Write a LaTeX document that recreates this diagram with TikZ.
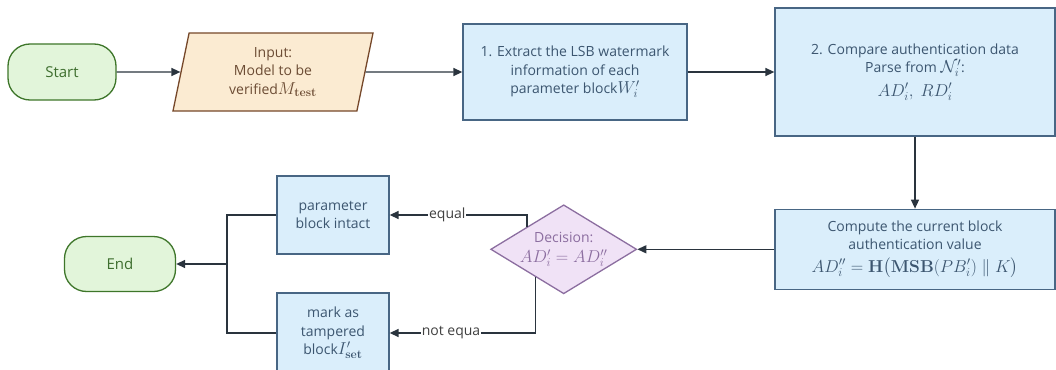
\documentclass[tikz,border=0pt]{standalone}
\usepackage{amsmath,amssymb}
\usepackage[no-math]{fontspec}
\setmainfont{Open Sans}
\usepackage{tikz}
\usetikzlibrary{positioning,arrows.meta,shapes.geometric,calc}

\definecolor{boxfill}{RGB}{218,238,251}
\definecolor{boxline}{RGB}{72,102,132}
\definecolor{boxtext}{RGB}{60,86,112}
\definecolor{termfill}{RGB}{226,245,218}
\definecolor{termline}{RGB}{62,118,42}
\definecolor{termtext}{RGB}{62,110,46}
\definecolor{iofill}{RGB}{251,235,210}
\definecolor{ioline}{RGB}{118,72,42}
\definecolor{iotext}{RGB}{108,76,52}
\definecolor{decfill}{RGB}{240,226,246}
\definecolor{decline}{RGB}{140,110,160}
\definecolor{dectext}{RGB}{140,110,160}
\definecolor{wire}{RGB}{42,52,62}

% math set a size up from the text
\newcommand{\mx}[1]{{\fontsize{16.5}{18}\selectfont$#1$}}

\begin{document}
\begin{tikzpicture}[x=1pt, y=1pt, font=\fontsize{14}{18.5}\selectfont,
  node distance=72pt and 72pt,
  box/.style={draw=boxline, fill=boxfill, text=boxtext, line width=1.3pt, align=center, inner sep=2pt},
  term/.style={draw=termline, fill=termfill, text=termtext, line width=1.3pt, rounded corners=22pt, minimum width=108pt, minimum height=56pt},
  io/.style={trapezium, trapezium left angle=72, trapezium right angle=108, trapezium stretches body, draw=ioline, fill=iofill, text=iotext, line width=1.3pt, align=center, minimum width=200pt, minimum height=78pt, inner sep=0pt},
  decision/.style={diamond, draw=decline, fill=decfill, line width=1.3pt, minimum width=146pt, minimum height=89pt, inner sep=0pt},
  line/.style={draw=wire, line width=1.4pt},
  arr/.style={line, -{Triangle[length=9pt,width=8pt]}},
  lab/.style={fill=white, text=black!75, inner sep=1pt}]
\useasboundingbox (0,0) rectangle (1056,-369);
\clip (0,0) rectangle (1056,-369);
% top row
\node[term] (start) at (62,-72) {\fontsize{15}{18}\selectfont Start};
\node[io] (input) at (273,-72) {Input:\\Model to be\\verified\mx{M_{\mathbf{test}}}};
\node[box, minimum width=224pt, minimum height=96pt] (extract) at (575,-72) {1. Extract the LSB watermark\\information of each\\parameter block\mx{W'_i}};
\node[box, minimum width=280pt, minimum height=128pt] (compare) at (915,-72) {2. Compare authentication data\\Parse from \mx{\mathcal{N}'_i}:\\[5pt]\mx{AD'_i,\ RD'_i}};
% bottom row
\node[box, minimum width=280pt, minimum height=80pt, below=of compare] (compute) {Compute the current block\\authentication value\\[4pt]\mx{AD''_i=\mathbf{H}\big(\mathbf{MSB}(PB'_i)\parallel K\big)}};
\node[decision, left=137pt of compute] (dec) {};
\node[text=dectext, align=center] (dectxt) at (dec) {Decision:\\[2pt]\mx{AD'_i=AD''_i}};
\node[box, minimum width=112pt, minimum height=78pt] (intact) at (333,-215) {parameter\\block intact};
\node[box, minimum width=112pt, minimum height=80pt] (tamper) at (333,-333) {mark as\\tampered\\block\mx{I'_{\mathbf{set}}}};
\node[term, minimum width=111pt, minimum height=55pt] (end) at (120,-264) {\fontsize{15}{18}\selectfont End};
\coordinate (join) at (227,-264);
% connectors
\draw[arr] (start) -- (input);
\draw[arr] (input) -- (extract);
\draw[arr] (extract) -- (compare);
\draw[arr] (compare) -- (compute);
\draw[arr] (compute) -- (dec);
\draw[arr] ($(dec.west)!.5!(dec.north)$) |- node[lab, pos=.79] (eqlab) {equal} (intact.east);
\draw[arr] ($(dec.south)!.38!(dec.west)$) |- node[lab, pos=.79] (nelab) {not equa} (tamper.east);
\draw[line] (intact.west) -| (join);
\draw[line] (tamper.west) -| (join);
\draw[arr] (join) -- (end.east);
\end{tikzpicture}
\end{document}
